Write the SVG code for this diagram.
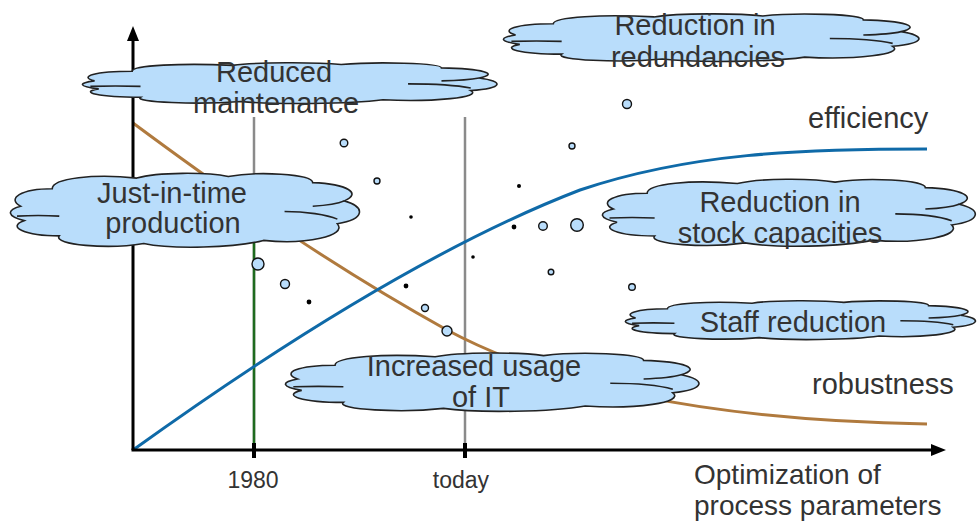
<svg xmlns="http://www.w3.org/2000/svg" xmlns:xlink="http://www.w3.org/1999/xlink" width="980" height="522" viewBox="0 0 980 522">
<style>
text{font-family:"Liberation Sans",Arial,sans-serif;fill:#333}
.lbl{font-family:"Liberation Sans",Arial,sans-serif;font-size:29px}
.ctr{text-anchor:middle}
.tick{font-family:"Liberation Sans",Arial,sans-serif;font-size:23px;text-anchor:middle}
.axis{stroke:#000;stroke-width:3;fill:none}
.guide{stroke:#8a8a8a;stroke-width:2.5}
.dot{fill:#b9ddfb;stroke:#111;stroke-width:1.4}
.bdot{fill:#000}
</style>
<defs>
<g id="cloud">
<path fill="#b9ddfb" stroke="#222" stroke-width="1.6" vector-effect="non-scaling-stroke" d="M3,45 C-1,35 3,22 12,22 C12,8 24,2 36,8 C42,0 56,0 62,6 C70,-1 86,2 86,14 C96,16 100,28 95,38 C101,46 101,62 93,68 C96,84 84,96 72,90 C64,100 46,102 38,94 C28,102 12,96 14,84 C4,84 -1,72 4,64 C-1,58 -1,50 3,45 Z"/>
<path fill="none" stroke="#222" stroke-width="1.6" vector-effect="non-scaling-stroke" d="M2,58 C6,57 10,57 14,58 M78,52 C84,52 90,56 93,62 M95,38 C93,42 90,44 86,45"/>
</g>
</defs>
<rect width="980" height="522" fill="#fff"/>

<g id="guides">
<line class="guide" x1="254" y1="117" x2="254" y2="450"/>
<line class="guide" x1="465" y1="117" x2="465" y2="450"/>
<line x1="254" y1="200" x2="254" y2="450" stroke="#1e6b1e" stroke-width="2.5"/>
</g>

<g id="connectors">
<path id="robustness-curve" d="M133,123 C230,195 330,265 447,330 C550,385 700,420 927,424" fill="none" stroke="#b07a3e" stroke-width="3"/>
<path id="efficiency-curve" d="M133,450 C300,330 450,240 580,190 C690,153 800,149 927,149" fill="none" stroke="#0f6aa8" stroke-width="3"/>
<line class="axis" x1="133" y1="450" x2="133" y2="38"/>
<polygon points="133,26 127,41 139,41" fill="#000"/>
<line class="axis" x1="131.5" y1="450" x2="934" y2="450"/>
<polygon points="946,450 931,444 931,456" fill="#000"/>
<rect x="252" y="443" width="4" height="15" fill="#000"/>
<rect x="463" y="443" width="4" height="15" fill="#000"/>
</g>

<g id="dots">
<circle class="dot" cx="344" cy="143" r="3.8"/>
<circle class="dot" cx="377" cy="181" r="3"/>
<circle class="bdot" cx="411" cy="217" r="1.8"/>
<circle class="dot" cx="258" cy="264" r="6"/>
<circle class="dot" cx="285" cy="284" r="4.5"/>
<circle class="bdot" cx="309" cy="302" r="2.4"/>
<circle class="bdot" cx="406" cy="286" r="2.4"/>
<circle class="dot" cx="425" cy="308" r="3.5"/>
<circle class="dot" cx="447" cy="331" r="5"/>
<circle class="bdot" cx="473" cy="257" r="1.8"/>
<circle class="bdot" cx="519" cy="186" r="2"/>
<circle class="bdot" cx="514" cy="227" r="2.4"/>
<circle class="dot" cx="543" cy="226" r="4.3"/>
<circle class="dot" cx="577" cy="225" r="6.3"/>
<circle class="dot" cx="572" cy="146" r="3"/>
<circle class="dot" cx="551" cy="272" r="2.8"/>
<circle class="dot" cx="632" cy="287" r="3.3"/>
<circle class="dot" cx="627" cy="104" r="4.5"/>
</g>

<g id="cloud-maintenance">
<use xlink:href="#cloud" href="#cloud" transform="translate(82,62) scale(4.18,0.42)"/>
<text class="lbl ctr" x="274" y="82">Reduced</text>
<text class="lbl ctr" x="276" y="113">maintenance</text>
</g>
<g id="cloud-jit">
<use xlink:href="#cloud" href="#cloud" transform="translate(10,172) scale(3.52,0.76)"/>
<text class="lbl ctr" x="172" y="203">Just-in-time</text>
<text class="lbl ctr" x="173" y="233">production</text>
</g>
<g id="cloud-redundancies">
<use xlink:href="#cloud" href="#cloud" transform="translate(503,13) scale(4.19,0.49)"/>
<text class="lbl ctr" x="695" y="35">Reduction in</text>
<text class="lbl ctr" x="698" y="67">redundancies</text>
</g>
<g id="cloud-stock">
<use xlink:href="#cloud" href="#cloud" transform="translate(602,178) scale(3.76,0.69)"/>
<text class="lbl ctr" x="780" y="212">Reduction in</text>
<text class="lbl ctr" x="780" y="243">stock capacities</text>
</g>
<g id="cloud-staff">
<use xlink:href="#cloud" href="#cloud" transform="translate(625,300) scale(3.53,0.40)"/>
<text class="lbl ctr" x="793" y="332">Staff reduction</text>
</g>
<g id="cloud-it">
<use xlink:href="#cloud" href="#cloud" transform="translate(285,352) scale(4.17,0.60)"/>
<text class="lbl ctr" x="474" y="376">Increased usage</text>
<text class="lbl ctr" x="481" y="407">of IT</text>
</g>

<g id="labels">
<text class="lbl" x="808" y="128">efficiency</text>
<text class="lbl" x="812" y="394">robustness</text>
<text class="tick" x="253" y="488">1980</text>
<text class="tick" x="461" y="488">today</text>
<text class="lbl" x="694" y="484" style="font-size:28px">Optimization of</text>
<text class="lbl" x="694" y="515" style="font-size:28px">process parameters</text>
</g>
</svg>
